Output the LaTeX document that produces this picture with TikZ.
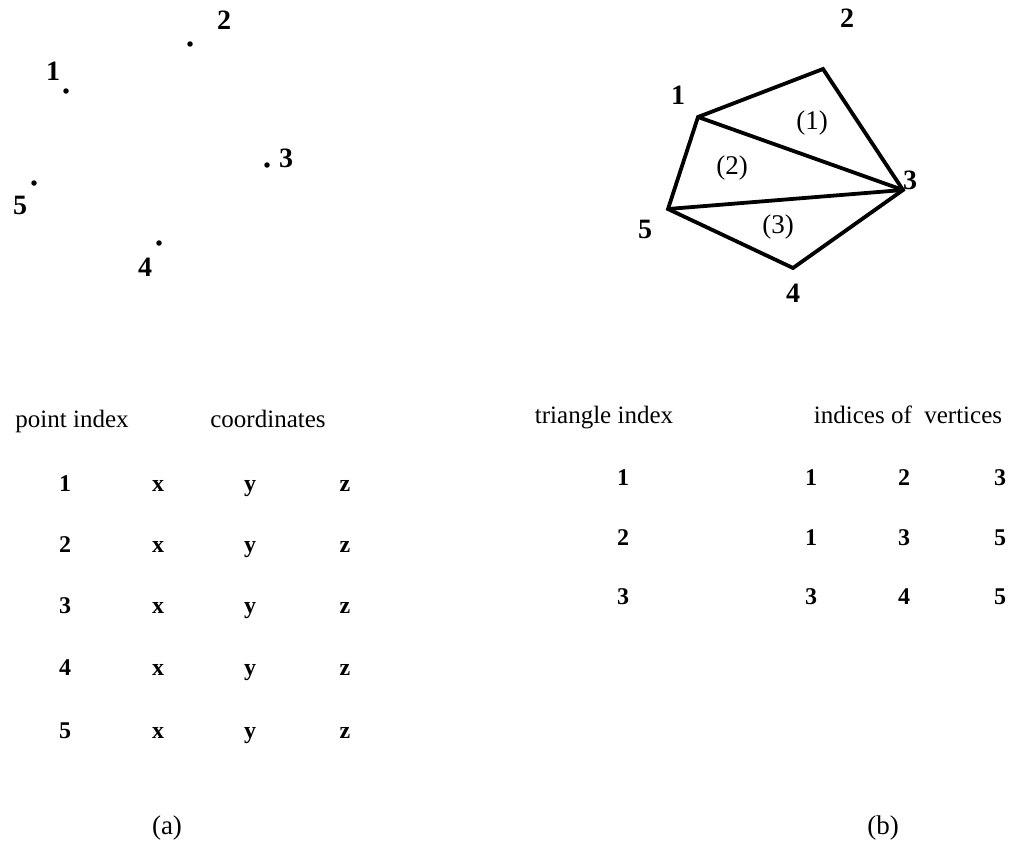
\documentclass[tikz,border=0pt]{standalone}
\usepackage{fontspec}
\setmainfont{Liberation Serif}
\begin{document}
\begin{tikzpicture}[x=1pt,y=-1pt,
  lbl/.style={font=\fontsize{28}{30}\selectfont\bfseries, inner sep=0pt},
  hdr/.style={font=\fontsize{25}{28}\selectfont, inner sep=0pt, text height=0.7em, text depth=0.2em},
  cell/.style={font=\fontsize{24}{28}\selectfont\bfseries, inner sep=0pt, text height=0.68em, text depth=0pt},
  captxt/.style={font=\fontsize{27}{30}\selectfont, inner sep=0pt},
  dotpt/.style={circle, fill=black, inner sep=0pt, minimum size=5.5pt},
  polyedge/.style={line width=3.8pt, line join=miter, line cap=round}]
\useasboundingbox (0,0) rectangle (1017,843);
% (a) scattered points
\node[dotpt] (p1) at (66,91) {};
\node[dotpt] (p2) at (190,44) {};
\node[dotpt] (p3) at (267,165) {};
\node[dotpt] (p4) at (159,243) {};
\node[dotpt] (p5) at (34,183) {};
\node[lbl] (l1) at (53,71) {1};
\node[lbl] (l2) at (224,20) {2};
\node[lbl] (l3) at (286,158) {3};
\node[lbl] (l4) at (145,267) {4};
\node[lbl] (l5) at (20,205) {5};
% (b) triangulation
\coordinate (v1) at (698,117);
\coordinate (v2) at (823,69);
\coordinate (v3) at (903,190);
\coordinate (v4) at (793,268);
\coordinate (v5) at (668,209);
\draw[polyedge] (v1) -- (v2) -- (v3) -- (v4) -- (v5) -- cycle;
\draw[polyedge] (v1) -- (v3);
\draw[polyedge] (v5) -- (v3);
\node[lbl] (m1) at (678,95) {1};
\node[lbl] (m2) at (847,18) {2};
\node[lbl] (m3) at (910,180) {3};
\node[lbl] (m4) at (793,293) {4};
\node[lbl] (m5) at (645,229) {5};
\node[captxt] (t1) at (812,123) {(1)};
\node[captxt] (t2) at (732,168) {(2)};
\node[captxt] (t3) at (778,227) {(3)};
% table (a)
\node[hdr] (ha1) at (72,425) {point index};
\node[hdr] (ha2) at (268,425) {coordinates};
\foreach \i/\y in {1/488,2/549,3/610,4/672,5/735}{
  \node[cell] (a\i n) at (65,\y) {\i};
  \node[cell] (a\i x) at (158,\y) {x};
  \node[cell] (a\i y) at (250,\y) {y};
  \node[cell] (a\i z) at (345,\y) {z};
}
% table (b)
\node[hdr] (hb1) at (604,421) {triangle index};
\node[hdr] (hb2) at (908,421) {indices of\ \ vertices};
\foreach \i/\y/\a/\b/\c in {1/482/1/2/3,2/542/1/3/5,3/601/3/4/5}{
  \node[cell] (b\i n) at (623,\y) {\i};
  \node[cell] (b\i a) at (811,\y) {\a};
  \node[cell] (b\i b) at (904,\y) {\b};
  \node[cell] (b\i c) at (1000,\y) {\c};
}
\node[captxt] (capa) at (167,828) {(a)};
\node[captxt] (capb) at (883,828) {(b)};
\end{tikzpicture}
\end{document}
